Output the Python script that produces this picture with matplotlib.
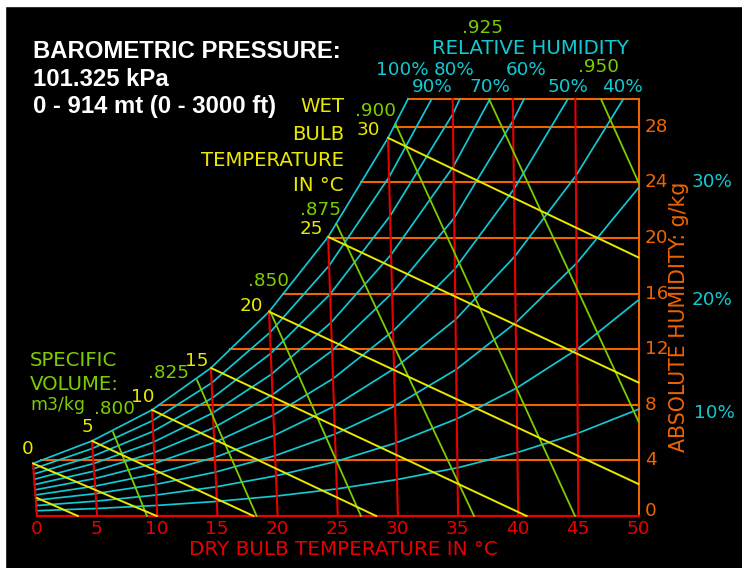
import numpy as np
import matplotlib
matplotlib.use("Agg")
import matplotlib.pyplot as plt
import matplotlib.transforms as mtrans
from matplotlib.patches import Rectangle

# ---------------- data ----------------
# dry-bulb grid (°C) and the small leftward lean of each dry-bulb line at its top end
db_temps = [0, 5, 10, 15, 20, 25, 30, 35, 40, 45, 50]
db_lean = [0.33, 0.43, 0.44, 0.54, 0.71, 0.80, 0.82, 0.45, 0.45, 0.25, 0.0]
db_top_w = [3.78, 5.40, 7.63, 10.65, 14.70, 20.08, 27.20, 30, 30, 30, 30]

# relative humidity curves: humidity ratio (g/kg) at the dry-bulb grid
rh_names = ["100%", "90%", "80%", "70%", "60%", "50%", "40%", "30%", "20%", "10%"]
rh100 = [3.78, 5.40, 7.63, 10.65, 14.70, 20.08, 27.20]
rh90 = [3.40, 4.86, 6.86, 9.57, 13.20, 18.01, 24.38]
rh80 = [3.02, 4.31, 6.09, 8.49, 11.70, 15.96, 21.58, 28.92]
rh70 = [2.64, 3.77, 5.32, 7.42, 10.21, 13.92, 18.80, 25.16]
rh60 = [2.26, 3.23, 4.56, 6.35, 8.73, 11.89, 16.04, 21.44, 28.44]
rh50 = [1.88, 2.69, 3.79, 5.28, 7.26, 9.88, 13.31, 17.77, 23.52]
rh40 = [1.51, 2.15, 3.03, 4.22, 5.80, 7.88, 10.60, 14.13, 18.68, 24.48]
rh30 = [1.13, 1.61, 2.27, 3.16, 4.34, 5.89, 7.92, 10.54, 13.90, 18.18, 23.61]
rh20 = [0.75, 1.07, 1.51, 2.10, 2.89, 3.92, 5.26, 6.99, 9.20, 12.00, 15.54]
rh10 = [0.38, 0.54, 0.76, 1.05, 1.44, 1.95, 2.62, 3.47, 4.57, 5.95, 7.68]
# dry-bulb temperature where each curve reaches the 30 g/kg top (None = reaches 50 °C)
rh_top_t = [31.6, 33.4, 35.6, 38.1, 40.9, 44.4, 48.8, None, None, None]

# absolute humidity grid (g/kg)
w_ticks = [0, 4, 8, 12, 16, 20, 24, 28]
w_top = 30

# wet-bulb lines: start on saturation at the wet-bulb temperature, end points
wb_temps = [0, 5, 10, 15, 20, 25, 30]
wb_end_t = [9.95, 18.0, 28.2, 40.7, 50, 50, 50]
wb_end_w = [0, 0, 0, 0, 2.3, 9.6, 18.6]
wb_low_t = [0, 3.4]      # short wet-bulb stub in the lower-left corner
wb_low_w = [1.3, 0]

# specific volume lines (m3/kg)
sv_names = [".800", ".825", ".850", ".875", ".900", ".925", ".950"]
sv_top_t = [6.32, 13.3, 19.37, 24.9, 29.8, 37.57, 46.88]
sv_top_w = [6.04, 9.78, 14.75, 21.0, 28.2, 30, 30]
sv_bot_t = [9.14, 18.26, 26.93, 36.33, 44.72, 50, 50]
sv_bot_w = [0, 0, 0, 0, 0, 6.8, 24.0]

# ---------------- style ----------------
CYAN = "#12C8D2"
YELLOW = "#E8E800"
GREEN = "#7CCC00"
RED = "#E80000"
ORANGE = "#F06400"
WHITE = "#FFFFFF"
FW, FH = 742, 568
LFONT = "DejaVu Sans"
NSIZE = 13.2     # numbers
WSIZE = 14.2     # words

fig = plt.figure(figsize=(FW / 100, FH / 100), dpi=100, facecolor="black")
ax = fig.add_axes([37 / FW, (FH - 516) / FH, 601.5 / FW, 417 / FH])
ax.set_facecolor("black")
ax.set_xlim(0, 50)
ax.set_ylim(0, w_top)
ax.axis("off")

# white strips on top and left edge
fig.patches.append(Rectangle((0, 1 - 6 / FH), 1, 6 / FH, transform=fig.transFigure,
                             color="white", zorder=0))
fig.patches.append(Rectangle((0, 0), 5 / FW, 1, transform=fig.transFigure,
                             color="white", zorder=0))

lean_per_w = np.array(db_lean) / np.array(db_top_w)


def chart_x(t, w):
    t = np.asarray(t, float)
    w = np.asarray(w, float)
    return t - np.interp(t, db_temps, lean_per_w) * w


# relative humidity curves
rh_lists = [rh100, rh90, rh80, rh70, rh60, rh50, rh40, rh30, rh20, rh10]
sat_x = sat_w = None
for vals, tt in zip(rh_lists, rh_top_t):
    t = list(db_temps[:len(vals)])
    w = list(vals)
    if tt is not None:
        t.append(tt)
        w.append(w_top)
    xs = chart_x(t, w)
    ax.plot(xs, w, color=CYAN, lw=1.25, clip_on=False, zorder=3)
    if sat_x is None:
        sat_x, sat_w = xs, np.array(w)

# horizontal absolute-humidity lines from saturation to right edge
for wv in w_ticks[1:] + [w_top]:
    x0 = np.interp(wv, sat_w, sat_x)
    ax.plot([x0, 50], [wv, wv], color=ORANGE, lw=1.5, clip_on=False, zorder=2)
ax.plot([50, 50], [0, w_top], color=ORANGE, lw=1.5, clip_on=False, zorder=2)

# dry bulb lines
for t, ln, top in zip(db_temps[:-1], db_lean[:-1], db_top_w[:-1]):
    ax.plot([t, t - ln], [0, top], color=RED, lw=1.5, clip_on=False, zorder=4)
ax.plot([0, 50], [0, 0], color=RED, lw=1.6, clip_on=False, zorder=4)

# wet bulb lines
for t, et, ew in zip(wb_temps, wb_end_t, wb_end_w):
    ws = float(np.interp(t, db_temps[:len(rh100)], rh100))
    xs = float(chart_x(t, ws))
    ax.plot([xs, et], [ws, ew], color=YELLOW, lw=1.4, clip_on=False, zorder=5)
ax.plot(wb_low_t, wb_low_w, color=YELLOW, lw=1.4, clip_on=False, zorder=5)

# specific volume lines
for tt, tw, bt, bw in zip(sv_top_t, sv_top_w, sv_bot_t, sv_bot_w):
    ax.plot([tt, bt], [tw, bw], color=GREEN, lw=1.3, clip_on=False, zorder=4)


# ---------------- text ----------------
def ptext(x, y, s, color, ha="center", size=NSIZE, **kw):
    fig.text(x / FW, 1 - y / FH, s, color=color, ha=ha, va="center",
             fontsize=size, family=kw.pop("family", LFONT), **kw)


# header
for y, s in [(52, "BAROMETRIC PRESSURE:"), (80, "101.325 kPa"),
             (107, "0 - 914 mt (0 - 3000 ft)")]:
    ptext(33, y, s, WHITE, ha="left", size=17.2, family="Liberation Sans",
          fontweight="bold")

# wet bulb title
for y, s in [(106, "WET"), (134, "BULB"), (161, "TEMPERATURE"), (185, "IN °C")]:
    ptext(344, y, s, YELLOW, ha="right", size=WSIZE)

# wet bulb numbers
for x, y, s in [(368, 130, "30"), (311, 229, "25"), (251, 306, "20"),
                (197, 361, "15"), (143, 397, "10"), (87, 427, "5"), (28, 449, "0")]:
    ptext(x, y, s, YELLOW)

# specific volume labels
sv_label_pos = [(115, 409), (168, 373), (268, 281), (320, 210), (376, 111),
                (482, 28), (598, 67)]
for (x, y), s in zip(sv_label_pos, sv_names):
    ptext(x, y, s, GREEN)
for y, s, sz in [(360, "SPECIFIC", WSIZE), (384, "VOLUME:", WSIZE), (405, "m3/kg", 12.4)]:
    ptext(30, y, s, GREEN, ha="left", size=sz)

# relative humidity labels
ptext(530, 49, "RELATIVE HUMIDITY", CYAN, size=WSIZE)
rh_label_pos = [(402, 70), (432, 87), (454, 70), (490, 87), (526, 70),
                (568, 87), (622, 87), (712, 182), (712, 300), (714, 413)]
for (x, y), s in zip(rh_label_pos, rh_names):
    ptext(x, y, s, CYAN)

# right axis tick labels
off_r = mtrans.offset_copy(ax.transData, fig=fig, x=6.5, y=0, units="dots")
for wv in w_ticks:
    ax.text(50, wv, str(wv), transform=off_r, color=ORANGE, ha="left",
            va="center" if wv > 0 else "baseline", fontsize=NSIZE, family=LFONT,
            clip_on=False)
ptext(679, 317, "ABSOLUTE HUMIDITY: g/kg", ORANGE, rotation=90, size=WSIZE + 0.6)

# bottom axis tick labels
off_b = mtrans.offset_copy(ax.transData, fig=fig, x=-0.5, y=-12.5, units="dots")
for t in db_temps:
    ax.text(t, 0, str(t), transform=off_b, color=RED, ha="center", va="center",
            fontsize=NSIZE, family=LFONT, clip_on=False)
ptext(343, 549.5, "DRY BULB TEMPERATURE IN °C", RED, size=14.3)

fig.savefig("out.png", dpi=100, facecolor="black")
